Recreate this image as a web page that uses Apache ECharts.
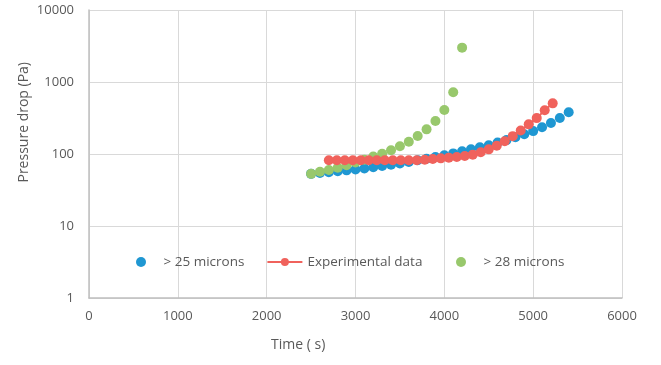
<!DOCTYPE html>
<html>
<head>
<meta charset="utf-8">
<title>Pressure drop vs time</title>
<script src="https://cdn.jsdelivr.net/npm/echarts@6/dist/echarts.min.js"></script>
<style>
  html, body { margin: 0; padding: 0; background: #fff; }
  #chart { width: 661px; height: 365px; }
</style>
</head>
<body>
<div id="chart"></div>
<script>
// values
const xTicks = [0, 1000, 2000, 3000, 4000, 5000, 6000];
const yTicks = [1, 10, 100, 1000, 10000];

const blueTime = [2500, 2600, 2700, 2800, 2900, 3000, 3100, 3200, 3300, 3400,
    3500, 3600, 3700, 3800, 3900, 4000, 4100, 4200, 4300, 4400,
    4500, 4600, 4700, 4800, 4900, 5000, 5100, 5200, 5300, 5400];
const blueVals = [53, 54.5, 55.7, 57.5, 59.3, 61, 63, 65.3, 68, 71,
    74, 77.4, 81.7, 86, 90.8, 96, 102, 109, 116, 124,
    132, 144, 156, 171, 188, 208, 235, 269, 316, 380];

const redTime = [2700, 2790, 2880, 2970, 3060, 3150, 3240, 3330, 3420, 3510,
    3600, 3690, 3780, 3870, 3960, 4050, 4140, 4230, 4320, 4410,
    4500, 4590, 4680, 4770, 4860, 4950, 5040, 5130, 5220];
const redVals = [82, 82, 82, 82, 82, 82, 82, 82, 82, 82,
    82, 82, 83, 85, 87, 89, 91, 94, 98, 106,
    116, 130, 150, 177, 212, 258, 315, 405, 505];

const greenTime = [2500, 2600, 2700, 2800, 2900, 3000, 3100, 3200, 3300, 3400,
    3500, 3600, 3700, 3800, 3900, 4000, 4100, 4200];
const greenVals = [53, 56.8, 60, 64.5, 70, 76, 83, 92, 101, 113,
    128, 148, 178, 220, 287, 408, 719, 3000];

const seriesNames = ['> 25 microns', 'Experimental data', '> 28 microns'];
const colors = { blue: '#1f97d2', red: '#f0625c', green: '#98c86c' };

const zip = (xs, ys) => xs.map((x, i) => [x, ys[i]]);

const font = 'Open Sans';
const textColor = '#595959';

const legendBase = {
    top: 250,
    itemWidth: 35,
    itemHeight: 10,
    itemGap: 22,
    textStyle: { color: textColor, fontSize: 13.5, fontFamily: font }
};

const chart = echarts.init(document.getElementById('chart'));

chart.setOption({
    animation: false,
    textStyle: { fontFamily: font },
    grid: { left: 89, right: 39, top: 10, bottom: 67, containLabel: false },
    legend: [
        Object.assign({ data: [seriesNames[0], seriesNames[1]], left: 131 }, legendBase),
        Object.assign({ data: [seriesNames[2]], left: 451 }, legendBase)
    ],
    xAxis: {
        type: 'value',
        min: xTicks[0],
        max: xTicks[xTicks.length - 1],
        interval: 1000,
        axisLine: { show: true, lineStyle: { color: '#bfbfbf', width: 1.5 } },
        axisTick: { show: false },
        axisLabel: { color: textColor, fontSize: 13, margin: 12, formatter: v => String(v) },
        splitLine: { show: true, lineStyle: { color: '#d9d9d9' } }
    },
    yAxis: {
        type: 'log',
        logBase: 10,
        min: yTicks[0],
        max: yTicks[yTicks.length - 1],
        axisLine: { show: true, lineStyle: { color: '#bfbfbf', width: 1.5 } },
        axisTick: { show: false },
        axisLabel: { color: textColor, fontSize: 13, margin: 15, formatter: v => String(Math.round(v)) },
        splitLine: { show: true, lineStyle: { color: '#d9d9d9' } }
    },
    graphic: [
        {
            type: 'text',
            left: 17,
            top: 62,
            rotation: Math.PI / 2,
            style: { text: 'Pressure drop (Pa)', fill: textColor, font: '14px "Open Sans"' }
        },
        {
            type: 'text',
            left: 271,
            top: 338,
            style: { text: 'Time ( s)', fill: textColor, font: '14px "Open Sans"' }
        }
    ],
    series: [
        {
            name: seriesNames[1],
            type: 'line',
            data: zip(redTime, redVals),
            symbol: 'circle',
            symbolSize: 10,
            itemStyle: { color: colors.red },
            lineStyle: { color: colors.red, width: 2 }
        },
        {
            name: seriesNames[0],
            type: 'scatter',
            data: zip(blueTime, blueVals),
            symbol: 'circle',
            symbolSize: 10,
            itemStyle: { color: colors.blue, opacity: 1 }
        },
        {
            name: seriesNames[2],
            type: 'scatter',
            data: zip(greenTime, greenVals),
            symbol: 'circle',
            symbolSize: 10,
            itemStyle: { color: colors.green, opacity: 1 }
        }
    ]
});
</script>
</body>
</html>
